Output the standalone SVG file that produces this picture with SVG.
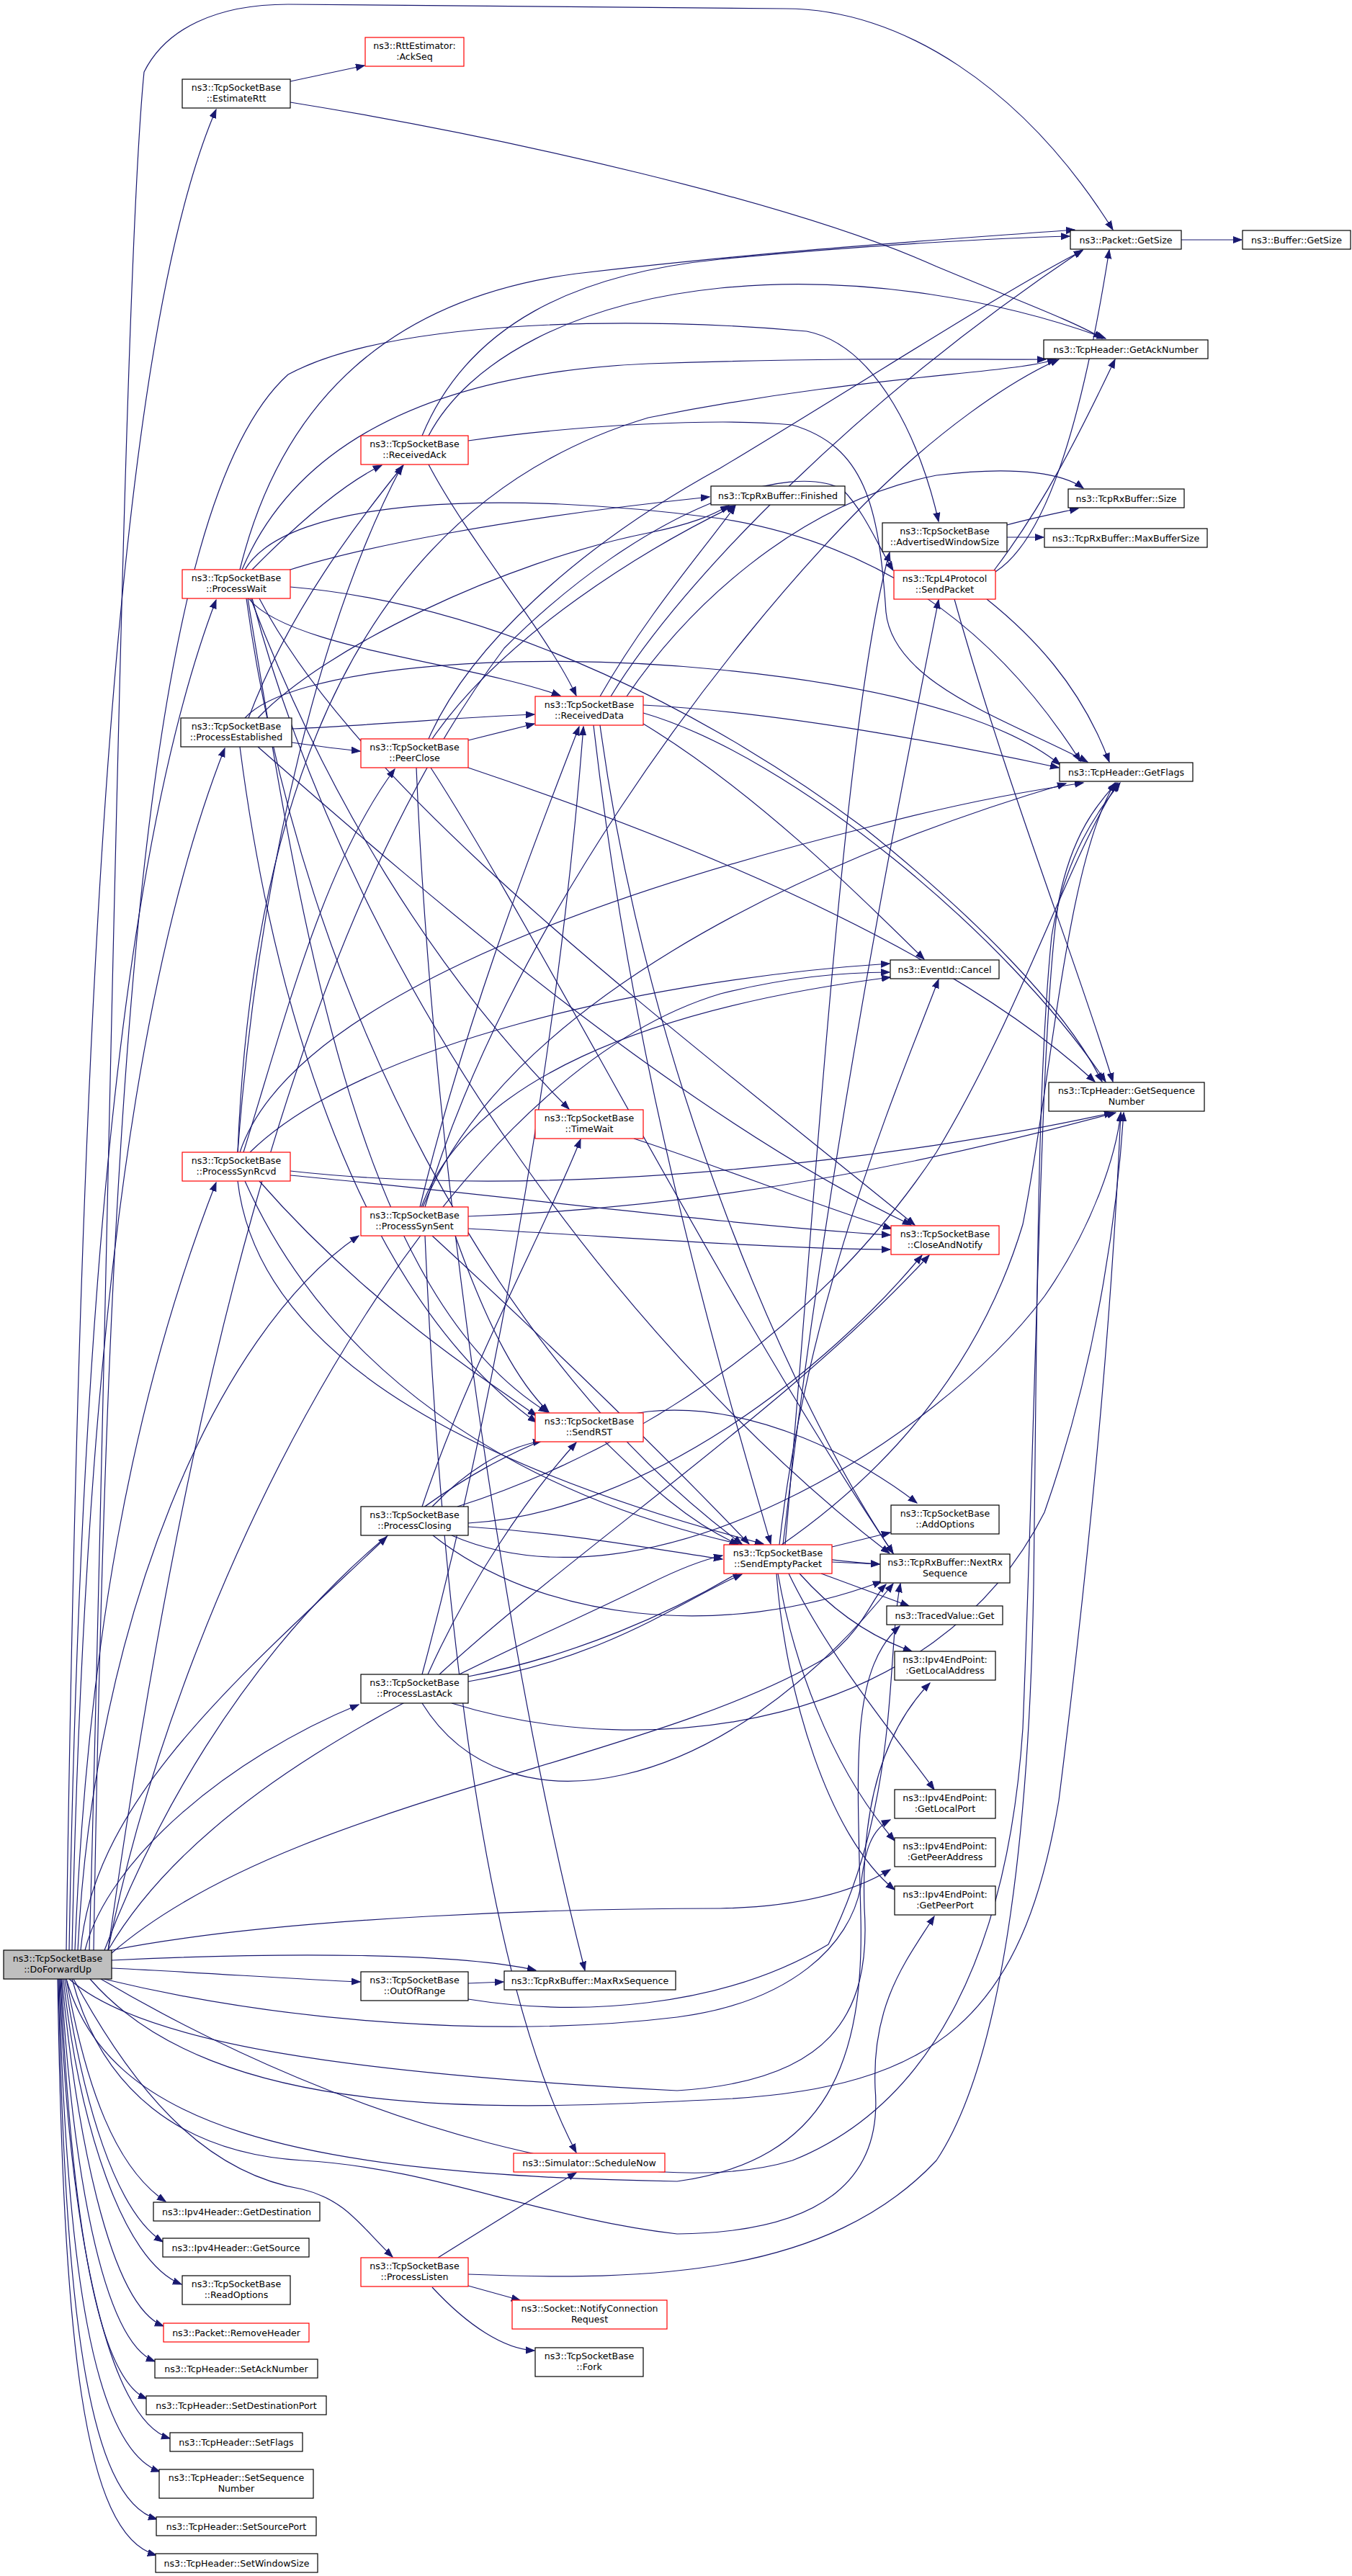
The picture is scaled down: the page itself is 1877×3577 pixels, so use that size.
<svg xmlns="http://www.w3.org/2000/svg" width="1877" height="3577" viewBox="0 0 1877 3577">
<defs>
<style>
.n rect{fill:#ffffff;stroke:#000000;stroke-width:1.2}
.r rect{fill:#ffffff;stroke:#ff0000;stroke-width:1.2}
.root rect{fill:#bfbfbf;stroke:#000000;stroke-width:1.2}
text{font-family:"DejaVu Sans","Liberation Sans",sans-serif;font-size:12.6px;fill:#000000;text-anchor:middle}
#edges path{fill:none;stroke:#191970;stroke-width:1.2;marker-end:url(#ah)}
</style>
<marker id="ah" markerWidth="14" markerHeight="11" refX="12" refY="5" orient="auto" markerUnits="userSpaceOnUse">
<path d="M0,0.5 L12,5 L0,9.5 z" fill="#191970" stroke="#191970" stroke-width="1"/>
</marker>
</defs>
<rect x="0" y="0" width="1877" height="3577" fill="#ffffff"/>
<g id="edges">
<!-- root edges -->
<path d="M92,2708 C110,1500 150,500 300,152"/>
<path d="M96,2708 C110,1900 160,1200 300,833"/>
<path d="M100,2708 C115,2000 170,1400 312,1039"/>
<path d="M104,2708 C120,2300 180,1950 300,1642"/>
<path d="M108,2708 C130,2250 300,1850 498,1716"/>
<path d="M112,2708 C130,2500 330,2330 537,2134"/>
<path d="M118,2708 C150,2580 320,2440 498,2367"/>
<path d="M102,2748 C200,2930 300,3020 420,3040 C480,3055 500,3090 545,3134"/>
<path d="M155,2733 C300,2740 400,2748 500,2752"/>
<path d="M155,2722 C400,2710 640,2712 744,2736"/>
<path d="M92,2748 C120,2900 160,3010 230,3057"/>
<path d="M90,2748 C115,2920 160,3070 226,3113"/>
<path d="M88,2748 C110,2950 170,3140 252,3172"/>
<path d="M86,2748 C105,2950 150,3200 227,3230"/>
<path d="M85,2748 C100,3000 140,3250 215,3279"/>
<path d="M84,2748 C98,3050 130,3300 204,3331"/>
<path d="M83,2748 C95,3100 150,3360 236,3386"/>
<path d="M82,2748 C92,3150 130,3400 222,3432"/>
<path d="M81,2748 C90,3200 120,3470 218,3498"/>
<path d="M80,2748 C88,3250 115,3520 217,3548"/>
<path d="M124,2708 C150,1800 170,400 200,100 C230,40 300,6 400,6 C700,8 900,12 1090,12 C1250,12 1420,120 1545,319"/>
<path d="M140,2748 C500,2960 900,3060 1100,3000 C1300,2920 1400,2700 1420,2400 C1440,1900 1445,1400 1470,1250 C1490,1150 1530,1110 1550,1087"/>
<path d="M150,2708 C250,2200 600,1500 1000,1380 C1100,1355 1180,1350 1235,1350"/>
<path d="M125,2748 C300,2950 700,2930 1000,2915 C1300,2900 1420,2800 1470,2500 C1520,2100 1545,1800 1556,1545"/>
<path d="M155,2712 C400,2500 900,2450 1150,2300 C1200,2260 1210,2220 1230,2200"/>
<path d="M150,2708 C300,2450 700,2300 900,2200 C950,2175 980,2165 1003,2160"/>
<path d="M130,2708 C150,1500 200,700 400,520 C550,440 900,440 1120,460 C1220,480 1280,620 1303,724"/>
<path d="M145,2708 C300,2300 600,2000 900,1960 C1050,1945 1200,2030 1273,2087"/>
<path d="M150,2708 C250,2000 400,1300 700,900 C900,700 1100,640 1170,680 C1200,710 1220,760 1240,792"/>
<path d="M96,2748 C200,2840 500,2880 940,2903 C1150,2890 1210,2800 1200,2650 C1195,2500 1230,2400 1291,2337"/>
<path d="M144,2748 C400,2810 700,2830 940,2801 C1100,2780 1180,2700 1195,2620 C1200,2570 1210,2540 1236,2527"/>
<path d="M155,2708 C400,2660 800,2650 1000,2650 C1100,2648 1180,2630 1236,2596"/>
<path d="M100,2748 C140,2900 250,2990 420,3000 C600,3010 750,3080 940,3102 C1150,3100 1225,3020 1215,2900 C1210,2780 1260,2720 1297,2661"/>
<path d="M92,2748 C150,2950 400,3020 940,3029 C1150,3000 1200,2860 1195,2660 C1190,2450 1180,2320 1249,2258"/>
<!-- EstimateRtt -->
<path d="M403,113 L506,91"/>
<path d="M403,142 C700,190 1100,280 1300,370 C1420,420 1500,450 1530,470"/>
<!-- Packet::GetSize -->
<path d="M1640,333 L1724,333"/>
<!-- ReceivedAck -->
<path d="M586,605 C650,450 800,380 1000,360 C1200,340 1400,330 1485,328"/>
<path d="M595,605 C650,500 800,420 1000,400 C1200,380 1400,420 1535,470"/>
<path d="M650,612 C800,590 1000,580 1100,590 C1200,620 1220,700 1230,850 C1240,950 1400,1000 1510,1058"/>
<path d="M595,645 C650,750 760,880 800,966"/>
<!-- ProcessWait -->
<path d="M350,791 C420,720 480,670 530,646"/>
<path d="M333,791 C380,600 500,420 800,380 C1100,345 1350,330 1492,319"/>
<path d="M336,791 C400,640 560,520 900,505 C1200,495 1350,500 1452,499"/>
<path d="M340,791 C400,690 700,680 1000,720 C1250,760 1400,900 1500,1057"/>
<path d="M400,792 C500,760 700,720 985,690"/>
<path d="M403,815 C700,840 1000,1000 1200,1150 C1350,1270 1480,1400 1530,1502"/>
<path d="M345,831 C400,900 650,920 778,966"/>
<path d="M348,831 C450,1100 600,1350 790,1540"/>
<path d="M360,831 C500,1100 900,1400 1270,1701"/>
<path d="M344,831 C420,1300 500,1800 760,1961"/>
<path d="M342,831 C420,1400 700,1900 1030,2144"/>
<path d="M350,831 C500,1400 900,1900 1235,2157"/>
<!-- ProcessEstablished -->
<path d="M340,997 C400,930 700,900 1000,930 C1300,960 1420,1020 1472,1062"/>
<path d="M345,997 C400,850 500,720 560,646"/>
<path d="M405,1031 C440,1036 470,1040 500,1043"/>
<path d="M405,1012 C550,1005 650,995 742,992"/>
<path d="M358,997 C450,900 700,780 900,740 C960,728 990,715 1012,702"/>
<path d="M333,1037 C380,1400 500,1800 745,1975"/>
<path d="M358,1037 C600,1250 950,1550 1265,1701"/>
<!-- PeerClose -->
<path d="M595,1026 C650,900 800,760 1000,650 C1200,530 1400,400 1503,348"/>
<path d="M600,1026 C700,880 900,760 1020,702"/>
<path d="M650,1028 L742,1005"/>
<path d="M650,1066 C900,1150 1300,1300 1520,1502"/>
<path d="M578,1066 C600,1600 700,2300 812,2736"/>
<path d="M598,1066 C750,1300 1000,1800 1240,2157"/>
<!-- ReceivedData -->
<path d="M848,967 C950,800 1200,550 1503,347"/>
<path d="M833,967 C900,850 980,760 1021,702"/>
<path d="M893,979 C1100,990 1350,1040 1470,1066"/>
<path d="M893,990 C1100,1050 1400,1300 1535,1502"/>
<path d="M893,1005 C1050,1100 1200,1250 1283,1332"/>
<path d="M870,967 C950,850 1100,700 1300,660 C1420,645 1480,660 1504,678"/>
<path d="M833,1007 C900,1500 1100,1950 1240,2157"/>
<path d="M824,1007 C880,1500 1000,1900 1070,2144"/>
<!-- ProcessSynRcvd -->
<path d="M333,1600 C400,1400 800,1250 1200,1150 C1350,1110 1450,1095 1504,1087"/>
<path d="M330,1600 C350,1100 500,700 900,580 C1200,520 1400,520 1466,499"/>
<path d="M347,1600 C500,1450 900,1360 1235,1338"/>
<path d="M330,1600 C360,1200 450,850 558,647"/>
<path d="M338,1600 C400,1400 450,1200 548,1068"/>
<path d="M403,1626 C800,1670 1300,1600 1545,1545"/>
<path d="M330,1640 C360,1900 700,2050 1060,2144"/>
<path d="M340,1640 C500,2000 900,2150 1221,2172"/>
<path d="M360,1640 C500,1800 650,1900 745,1966"/>
<path d="M403,1632 C700,1660 1000,1700 1236,1715"/>
<!-- ProcessSynSent -->
<path d="M587,1676 C700,1400 1100,1200 1480,1088"/>
<path d="M585,1676 C650,1500 900,1400 1236,1357"/>
<path d="M583,1676 C650,1400 750,1150 804,1009"/>
<path d="M590,1676 C700,1300 1000,900 1200,700 C1300,600 1400,530 1470,499"/>
<path d="M650,1689 C900,1680 1200,1640 1549,1545"/>
<path d="M650,1706 C900,1720 1100,1735 1236,1735"/>
<path d="M590,1716 C620,2400 700,2800 800,2989"/>
<path d="M600,1716 C800,1900 950,2050 1040,2144"/>
<path d="M632,1716 C680,1850 720,1920 762,1961"/>
<!-- ProcessClosing -->
<path d="M586,2092 C650,1900 760,1700 806,1582"/>
<path d="M600,2092 C650,2040 700,2010 752,2001"/>
<path d="M635,2092 C800,2040 1100,1900 1300,1600 C1420,1400 1480,1200 1552,1087"/>
<path d="M650,2115 C900,2100 1150,1900 1280,1743"/>
<path d="M650,2120 C800,2130 900,2150 1003,2165"/>
<path d="M627,2132 C900,2250 1300,2000 1450,1800 C1520,1700 1550,1600 1556,1545"/>
<path d="M601,2132 C750,2250 1000,2280 1224,2196"/>
<!-- ProcessLastAck -->
<path d="M586,2325 C700,1900 780,1400 810,1009"/>
<path d="M594,2325 C650,2200 730,2080 800,2003"/>
<path d="M610,2325 C800,2150 1100,1950 1290,1743"/>
<path d="M650,2328 C900,2280 1300,2100 1420,1700 C1460,1500 1480,1200 1548,1087"/>
<path d="M650,2335 C850,2300 950,2220 1030,2186"/>
<path d="M627,2365 C900,2450 1300,2400 1450,2100 C1520,1900 1550,1700 1560,1545"/>
<path d="M586,2365 C700,2550 1000,2500 1240,2199"/>
<!-- ProcessListen -->
<path d="M650,3158 C900,3168 1150,3160 1300,3000 C1400,2850 1430,2500 1435,2200 C1440,1800 1440,1500 1460,1300 C1480,1180 1530,1120 1555,1087"/>
<path d="M608,3135 C680,3090 760,3040 800,3017"/>
<path d="M650,3174 L722,3194"/>
<path d="M600,3176 C650,3230 700,3262 742,3264"/>
<!-- TimeWait, SendRST -->
<path d="M880,1581 C1000,1620 1150,1680 1238,1706"/>
<path d="M840,2002 C900,2060 950,2110 1025,2145"/>
<!-- SendEmptyPacket -->
<path d="M1155,2148 L1236,2128"/>
<path d="M1155,2169 L1221,2172"/>
<path d="M1140,2185 L1262,2230"/>
<path d="M1110,2185 C1150,2230 1200,2270 1266,2293"/>
<path d="M1095,2185 C1150,2300 1250,2420 1297,2485"/>
<path d="M1080,2185 C1100,2300 1150,2450 1242,2556"/>
<path d="M1078,2185 C1090,2350 1150,2550 1242,2624"/>
<path d="M1087,2145 C1150,1600 1250,1100 1303,833"/>
<path d="M1082,2145 C1120,1800 1250,1500 1303,1360"/>
<path d="M1090,2145 C1130,1700 1170,1000 1235,767"/>
<!-- SendPacket -->
<path d="M1382,794 C1450,750 1500,600 1540,347"/>
<path d="M1380,792 C1450,700 1500,600 1548,499"/>
<path d="M1370,832 C1430,880 1500,950 1540,1058"/>
<path d="M1325,832 C1400,1100 1500,1350 1545,1502"/>
<!-- AdvertisedWindowSize -->
<path d="M1398,729 C1430,720 1470,712 1497,706"/>
<path d="M1398,746 L1449,746"/>
<!-- OutOfRange -->
<path d="M650,2754 L699,2752"/>
<path d="M650,2776 C800,2800 1000,2790 1150,2700 C1250,2500 1230,2300 1250,2199"/>
</g>
<g id="nodes">
<g id="n-DoForwardUp" class="root"><rect x="5" y="2708" width="150" height="40"/><text><tspan x="80" y="2724">ns3::TcpSocketBase</tspan><tspan x="80" y="2739">::DoForwardUp</tspan></text></g>
<g id="n-EstimateRtt" class="n"><rect x="253" y="110" width="150" height="40"/><text><tspan x="328" y="126">ns3::TcpSocketBase</tspan><tspan x="328" y="141">::EstimateRtt</tspan></text></g>
<g id="n-AckSeq" class="r"><rect x="507" y="52" width="137" height="40"/><text><tspan x="575.5" y="68">ns3::RttEstimator:</tspan><tspan x="575.5" y="83">:AckSeq</tspan></text></g>
<g id="n-PacketGetSize" class="n"><rect x="1486" y="320" width="154" height="26"/><text x="1563" y="337.5">ns3::Packet::GetSize</text></g>
<g id="n-BufferGetSize" class="n"><rect x="1725" y="320" width="150" height="26"/><text x="1800" y="337.5">ns3::Buffer::GetSize</text></g>
<g id="n-GetAckNumber" class="n"><rect x="1449" y="472" width="228" height="26"/><text x="1563" y="489.5">ns3::TcpHeader::GetAckNumber</text></g>
<g id="n-ReceivedAck" class="r"><rect x="501" y="605" width="149" height="40"/><text><tspan x="575.5" y="621">ns3::TcpSocketBase</tspan><tspan x="575.5" y="636">::ReceivedAck</tspan></text></g>
<g id="n-ProcessWait" class="r"><rect x="253" y="791" width="150" height="40"/><text><tspan x="328" y="807">ns3::TcpSocketBase</tspan><tspan x="328" y="822">::ProcessWait</tspan></text></g>
<g id="n-Finished" class="n"><rect x="987" y="675" width="186" height="26"/><text x="1080" y="692.5">ns3::TcpRxBuffer::Finished</text></g>
<g id="n-RxSize" class="n"><rect x="1483" y="679" width="161" height="26"/><text x="1563.5" y="696.5">ns3::TcpRxBuffer::Size</text></g>
<g id="n-AdvertisedWindowSize" class="n"><rect x="1225" y="726" width="173" height="40"/><text><tspan x="1311.5" y="742">ns3::TcpSocketBase</tspan><tspan x="1311.5" y="757">::AdvertisedWindowSize</tspan></text></g>
<g id="n-MaxBufferSize" class="n"><rect x="1450" y="734" width="226" height="26"/><text x="1563" y="751.5">ns3::TcpRxBuffer::MaxBufferSize</text></g>
<g id="n-SendPacket" class="r"><rect x="1241" y="792" width="141" height="40"/><text><tspan x="1311.5" y="808">ns3::TcpL4Protocol</tspan><tspan x="1311.5" y="823">::SendPacket</tspan></text></g>
<g id="n-ProcessEstablished" class="n"><rect x="251" y="997" width="154" height="40"/><text><tspan x="328" y="1013">ns3::TcpSocketBase</tspan><tspan x="328" y="1028">::ProcessEstablished</tspan></text></g>
<g id="n-PeerClose" class="r"><rect x="501" y="1026" width="149" height="40"/><text><tspan x="575.5" y="1042">ns3::TcpSocketBase</tspan><tspan x="575.5" y="1057">::PeerClose</tspan></text></g>
<g id="n-ReceivedData" class="r"><rect x="743" y="967" width="150" height="40"/><text><tspan x="818" y="983">ns3::TcpSocketBase</tspan><tspan x="818" y="998">::ReceivedData</tspan></text></g>
<g id="n-GetFlags" class="n"><rect x="1471" y="1059" width="185" height="26"/><text x="1563.5" y="1076.5">ns3::TcpHeader::GetFlags</text></g>
<g id="n-Cancel" class="n"><rect x="1236" y="1333" width="151" height="26"/><text x="1311.5" y="1350.5">ns3::EventId::Cancel</text></g>
<g id="n-GetSequenceNumber" class="n"><rect x="1456" y="1503" width="216" height="40"/><text><tspan x="1564" y="1519">ns3::TcpHeader::GetSequence</tspan><tspan x="1564" y="1534">Number</tspan></text></g>
<g id="n-TimeWait" class="r"><rect x="743" y="1541" width="150" height="40"/><text><tspan x="818" y="1557">ns3::TcpSocketBase</tspan><tspan x="818" y="1572">::TimeWait</tspan></text></g>
<g id="n-ProcessSynRcvd" class="r"><rect x="253" y="1600" width="150" height="40"/><text><tspan x="328" y="1616">ns3::TcpSocketBase</tspan><tspan x="328" y="1631">::ProcessSynRcvd</tspan></text></g>
<g id="n-ProcessSynSent" class="r"><rect x="501" y="1676" width="149" height="40"/><text><tspan x="575.5" y="1692">ns3::TcpSocketBase</tspan><tspan x="575.5" y="1707">::ProcessSynSent</tspan></text></g>
<g id="n-CloseAndNotify" class="r"><rect x="1237" y="1702" width="150" height="40"/><text><tspan x="1312" y="1718">ns3::TcpSocketBase</tspan><tspan x="1312" y="1733">::CloseAndNotify</tspan></text></g>
<g id="n-SendRST" class="r"><rect x="743" y="1962" width="150" height="40"/><text><tspan x="818" y="1978">ns3::TcpSocketBase</tspan><tspan x="818" y="1993">::SendRST</tspan></text></g>
<g id="n-ProcessClosing" class="n"><rect x="501" y="2092" width="149" height="40"/><text><tspan x="575.5" y="2108">ns3::TcpSocketBase</tspan><tspan x="575.5" y="2123">::ProcessClosing</tspan></text></g>
<g id="n-ProcessLastAck" class="n"><rect x="501" y="2325" width="149" height="40"/><text><tspan x="575.5" y="2341">ns3::TcpSocketBase</tspan><tspan x="575.5" y="2356">::ProcessLastAck</tspan></text></g>
<g id="n-SendEmptyPacket" class="r"><rect x="1005" y="2145" width="150" height="40"/><text><tspan x="1080" y="2161">ns3::TcpSocketBase</tspan><tspan x="1080" y="2176">::SendEmptyPacket</tspan></text></g>
<g id="n-AddOptions" class="n"><rect x="1237" y="2090" width="150" height="40"/><text><tspan x="1312" y="2106">ns3::TcpSocketBase</tspan><tspan x="1312" y="2121">::AddOptions</tspan></text></g>
<g id="n-NextRxSequence" class="n"><rect x="1222" y="2158" width="180" height="40"/><text><tspan x="1312" y="2174">ns3::TcpRxBuffer::NextRx</tspan><tspan x="1312" y="2189">Sequence</tspan></text></g>
<g id="n-TracedValueGet" class="n"><rect x="1231" y="2230" width="161" height="26"/><text x="1311.5" y="2247.5">ns3::TracedValue::Get</text></g>
<g id="n-GetLocalAddress" class="n"><rect x="1242" y="2293" width="140" height="40"/><text><tspan x="1312" y="2309">ns3::Ipv4EndPoint:</tspan><tspan x="1312" y="2324">:GetLocalAddress</tspan></text></g>
<g id="n-GetLocalPort" class="n"><rect x="1242" y="2485" width="140" height="40"/><text><tspan x="1312" y="2501">ns3::Ipv4EndPoint:</tspan><tspan x="1312" y="2516">:GetLocalPort</tspan></text></g>
<g id="n-GetPeerAddress" class="n"><rect x="1242" y="2552" width="140" height="40"/><text><tspan x="1312" y="2568">ns3::Ipv4EndPoint:</tspan><tspan x="1312" y="2583">:GetPeerAddress</tspan></text></g>
<g id="n-GetPeerPort" class="n"><rect x="1242" y="2619" width="140" height="40"/><text><tspan x="1312" y="2635">ns3::Ipv4EndPoint:</tspan><tspan x="1312" y="2650">:GetPeerPort</tspan></text></g>
<g id="n-OutOfRange" class="n"><rect x="501" y="2738" width="149" height="40"/><text><tspan x="575.5" y="2754">ns3::TcpSocketBase</tspan><tspan x="575.5" y="2769">::OutOfRange</tspan></text></g>
<g id="n-MaxRxSequence" class="n"><rect x="700" y="2737" width="238" height="26"/><text x="819" y="2754.5">ns3::TcpRxBuffer::MaxRxSequence</text></g>
<g id="n-ScheduleNow" class="r"><rect x="713" y="2990" width="210" height="26"/><text x="818" y="3007.5">ns3::Simulator::ScheduleNow</text></g>
<g id="n-GetDestination" class="n"><rect x="213" y="3058" width="231" height="26"/><text x="328.5" y="3075.5">ns3::Ipv4Header::GetDestination</text></g>
<g id="n-GetSource" class="n"><rect x="226" y="3108" width="203" height="26"/><text x="327.5" y="3125.5">ns3::Ipv4Header::GetSource</text></g>
<g id="n-ProcessListen" class="r"><rect x="501" y="3135" width="149" height="40"/><text><tspan x="575.5" y="3151">ns3::TcpSocketBase</tspan><tspan x="575.5" y="3166">::ProcessListen</tspan></text></g>
<g id="n-ReadOptions" class="n"><rect x="253" y="3160" width="150" height="40"/><text><tspan x="328" y="3176">ns3::TcpSocketBase</tspan><tspan x="328" y="3191">::ReadOptions</tspan></text></g>
<g id="n-NotifyConnectionRequest" class="r"><rect x="711" y="3194" width="215" height="40"/><text><tspan x="818.5" y="3210">ns3::Socket::NotifyConnection</tspan><tspan x="818.5" y="3225">Request</tspan></text></g>
<g id="n-RemoveHeader" class="r"><rect x="227" y="3226" width="202" height="26"/><text x="328" y="3243.5">ns3::Packet::RemoveHeader</text></g>
<g id="n-Fork" class="n"><rect x="743" y="3260" width="150" height="40"/><text><tspan x="818" y="3276">ns3::TcpSocketBase</tspan><tspan x="818" y="3291">::Fork</tspan></text></g>
<g id="n-SetAckNumber" class="n"><rect x="215" y="3276" width="226" height="26"/><text x="328" y="3293.5">ns3::TcpHeader::SetAckNumber</text></g>
<g id="n-SetDestinationPort" class="n"><rect x="203" y="3327" width="250" height="26"/><text x="328" y="3344.5">ns3::TcpHeader::SetDestinationPort</text></g>
<g id="n-SetFlags" class="n"><rect x="236" y="3378" width="184" height="26"/><text x="328" y="3395.5">ns3::TcpHeader::SetFlags</text></g>
<g id="n-SetSequenceNumber" class="n"><rect x="221" y="3429" width="214" height="40"/><text><tspan x="328" y="3445">ns3::TcpHeader::SetSequence</tspan><tspan x="328" y="3460">Number</tspan></text></g>
<g id="n-SetSourcePort" class="n"><rect x="217" y="3495" width="222" height="26"/><text x="328" y="3512.5">ns3::TcpHeader::SetSourcePort</text></g>
<g id="n-SetWindowSize" class="n"><rect x="216" y="3546" width="225" height="26"/><text x="328.5" y="3563.5">ns3::TcpHeader::SetWindowSize</text></g>
</g>
</svg>
